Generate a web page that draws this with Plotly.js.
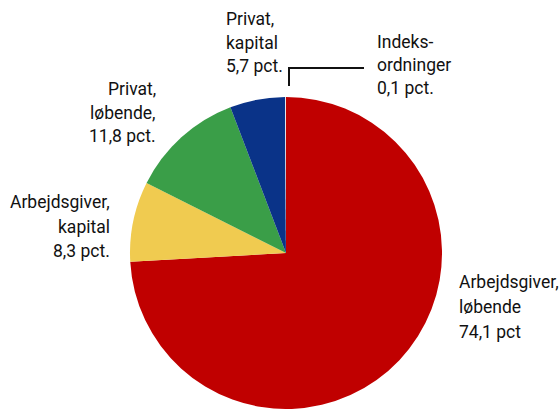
<!DOCTYPE html>
<html>
<head>
<meta charset="utf-8">
<script src="https://cdn.plot.ly/plotly-3.0.1.min.js"></script>
<style>html,body{margin:0;padding:0;background:#fff;}#chart{width:560px;height:409px;}</style>
</head>
<body>
<div id="chart"></div>
<script>
const categories = ["Arbejdsgiver, løbende", "Arbejdsgiver, kapital", "Privat, løbende", "Privat, kapital", "Indeksordninger"];
const values = [74.1, 8.3, 11.8, 5.7, 0.1];
const labelLines = [
  ["Arbejdsgiver,", "løbende", "74,1 pct"],
  ["Arbejdsgiver,", "kapital", "8,3 pct."],
  ["Privat,", "løbende,", "11,8 pct."],
  ["Privat,", "kapital", "5,7 pct."],
  ["Indeks-", "ordninger", "0,1 pct."]
];
const colors = ["#C00000", "#F0CB50", "#3A9E48", "#0A3388", "#E8E8E8"];

const W = 560, H = 409;
const px = x => x / W;
const py = y => 1 - y / H;

// label placement (pixel): x, centre y of each line, anchor
const labelPos = [
  [457, [282, 307, 332], "left"],
  [112, [202, 227, 251], "right"],
  [158, [89, 113, 136], "right"],
  [224, [19, 42.5, 66], "left"],
  [375, [42, 65, 88], "left"]
];

const annotations = [];
labelLines.forEach((lines, i) => {
  lines.forEach((t, j) => {
    annotations.push({
      text: t,
      xref: "paper", yref: "paper",
      x: px(labelPos[i][0]), y: py(labelPos[i][1][j]),
      xanchor: labelPos[i][2], yanchor: "middle",
      align: labelPos[i][2],
      showarrow: false,
      font: {family: "Roboto, Liberation Sans, sans-serif", size: 17.5, color: "#111"}
    });
  });
});

const data = [{
  type: "pie",
  labels: categories,
  values: values,
  sort: false,
  direction: "clockwise",
  rotation: 0,
  textinfo: "none",
  hoverinfo: "label+percent",
  marker: {colors: colors, line: {color: "#ffffff", width: 0}},
  domain: {x: [130 / W, 442 / W], y: [0, 312 / H]},
  showlegend: false
}];

const layout = {
  width: W, height: H,
  margin: {l: 0, r: 0, t: 0, b: 0},
  paper_bgcolor: "#ffffff",
  showlegend: false,
  annotations: annotations,
  shapes: [{
    type: "path", xref: "paper", yref: "paper",
    path: `M ${px(289)},${py(86)} L ${px(289)},${py(68)} L ${px(364)},${py(68)}`,
    line: {color: "#111", width: 2}
  }]
};

Plotly.newPlot("chart", data, layout, {displayModeBar: false, staticPlot: true});
</script>
</body>
</html>
